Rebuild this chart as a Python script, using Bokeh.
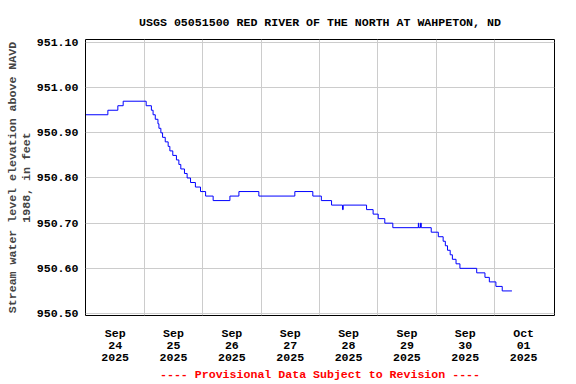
from bokeh.plotting import figure
from bokeh.models import Range1d, FixedTicker, Title, PrintfTickFormatter
from bokeh.embed import file_html
from bokeh.resources import INLINE

# hours since 2025-09-24 00:00 at which the gage height changes, and the new value
hours = [0.0, 9.0, 13.1, 15.3, 24.75, 26.9, 27.6, 28.5, 29.6, 30.0,
         30.8, 31.5, 32.6, 33.8, 34.5, 35.7, 37.2, 38.2, 39.0, 40.5,
         41.6, 43.0, 45.0, 47.1, 49.2, 52.3, 59.2, 62.9, 71.1, 85.9,
         93.3, 96.8, 101.0, 105.5, 105.8, 115.4, 118.1, 120.2, 122.9, 126.2,
         136.7, 136.9, 137.6, 137.9, 142.0, 144.9, 146.9, 147.8, 148.7, 149.8,
         150.7, 152.2, 153.8, 160.7, 164.1, 165.9, 168.6, 171.2, 175.2]
elev = [950.94, 950.95, 950.96, 950.97, 950.96, 950.95, 950.94, 950.93, 950.92, 950.91,
        950.90, 950.89, 950.88, 950.87, 950.86, 950.85, 950.84, 950.83, 950.82, 950.81,
        950.80, 950.79, 950.78, 950.77, 950.76, 950.75, 950.76, 950.77, 950.76, 950.77,
        950.76, 950.75, 950.74, 950.73, 950.74, 950.73, 950.72, 950.71, 950.70, 950.69,
        950.70, 950.69, 950.70, 950.69, 950.68, 950.67, 950.66, 950.65, 950.64, 950.63,
        950.62, 950.61, 950.60, 950.59, 950.58, 950.57, 950.56, 950.55, 950.55]

day_label_hours = [12, 36, 60, 84, 108, 132, 156, 180]
day_labels = ["Sep\n24\n2025", "Sep\n25\n2025", "Sep\n26\n2025", "Sep\n27\n2025",
              "Sep\n28\n2025", "Sep\n29\n2025", "Sep\n30\n2025", "Oct\n01\n2025"]
midnight_hours = [24, 48, 72, 96, 120, 144, 168]
y_ticks = [950.50, 950.60, 950.70, 950.80, 950.90, 951.00, 951.10]

title_text = "USGS 05051500 RED RIVER OF THE NORTH AT WAHPETON, ND"
y_label = "Stream water level elevation above NAVD\n1988, in feet"
footer_text = "---- Provisional Data Subject to Revision ----"

FONT = "Liberation Mono"
FS = "11.6px"

p = figure(width=576, height=384, output_backend="svg", toolbar_location=None,
           x_range=Range1d(-0.2, 192.7), y_range=Range1d(950.4956, 951.1066),
           min_border_left=85, min_border_right=22, min_border_top=39, min_border_bottom=69,
           background_fill_color="white", border_fill_color="white")

p.step(hours, elev, mode="after", line_color="#0000ff", line_width=1)

p.outline_line_color = "black"
p.outline_line_width = 1

for ax in (p.xaxis, p.yaxis):
    ax.axis_line_color = None
    ax.major_tick_line_color = None
    ax.minor_tick_line_color = None
    ax.major_tick_out = 0
    ax.major_tick_in = 0
    ax.minor_tick_out = 0
    ax.minor_tick_in = 0
    ax.major_label_text_font = FONT
    ax.major_label_text_font_style = "bold"
    ax.major_label_text_font_size = FS
    ax.major_label_text_color = "black"

p.xaxis.ticker = FixedTicker(ticks=day_label_hours)
p.xaxis.major_label_overrides = dict(zip(day_label_hours, day_labels))
p.xaxis.major_label_standoff = 11
p.xaxis.major_label_text_line_height = 0.95
p.xgrid.ticker = FixedTicker(ticks=midnight_hours)

p.yaxis.ticker = FixedTicker(ticks=y_ticks)
p.yaxis.formatter = PrintfTickFormatter(format="%.2f")
p.yaxis.major_label_standoff = 7
p.yaxis.axis_label = y_label
p.yaxis.axis_label_text_font = FONT
p.yaxis.axis_label_text_font_style = "bold"
p.yaxis.axis_label_text_font_size = FS
p.yaxis.axis_label_text_line_height = 1.05
p.yaxis.axis_label_standoff = 1

p.xgrid.grid_line_color = "#cccccc"
p.ygrid.grid_line_color = "#cccccc"
p.xgrid.grid_line_width = 1
p.ygrid.grid_line_width = 1

p.title = None
p.add_layout(Title(text=title_text, align="center", text_font=FONT, text_font_style="bold",
                   text_font_size=FS, text_color="black", standoff=21), "above")
p.add_layout(Title(text=footer_text, align="center", vertical_align="top", text_font=FONT,
                   text_font_style="bold", text_font_size=FS, text_color="#ff0000",
                   standoff=0), "below")

open("out.html", "w").write(file_html(p, INLINE))
